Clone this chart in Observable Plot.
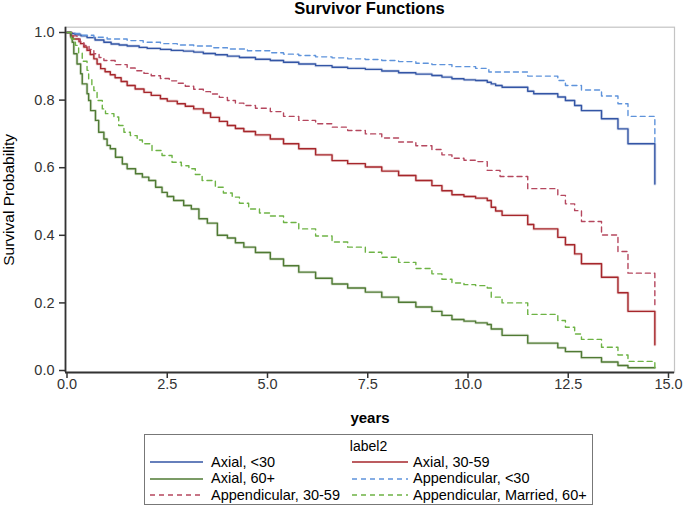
<!DOCTYPE html>
<html><head><meta charset="utf-8">
<script src="https://cdn.jsdelivr.net/npm/d3@7"></script>
<script src="https://cdn.jsdelivr.net/npm/@observablehq/plot@0.6"></script>
<style>
body{margin:0;background:#fff;font-family:"Liberation Sans",Arial,sans-serif;}
#wrap{position:relative;width:683px;height:507px;overflow:hidden;background:#fff;}
#title{position:absolute;left:65px;width:609px;top:0;height:18px;line-height:16px;text-align:center;font-weight:bold;font-size:16.5px;color:#000;}
#chart{position:absolute;left:0;top:20px;}
.legbox{position:absolute;left:144px;top:434px;width:447px;height:69px;border:1px solid #777;}
.lt{position:absolute;font-size:14.5px;line-height:17px;white-space:nowrap;color:#000;}
.sw{position:absolute;}
</style></head>
<body>
<div id="wrap">
  <div id="title">Survivor Functions</div>
  <div id="chart"></div>
  <div id="legend"></div>
</div>
<script>
// ---- data: Kaplan-Meier step points [years, survival] ----
const seriesNames = ["Axial, <30", "Axial, 30-59", "Axial, 60+", "Appendicular, <30", "Appendicular, 30-59", "Appendicular, Married, 60+"];

const axialU30 = [[0,1],[0.09,0.997],[0.2,0.993],[0.35,0.99],[0.5,0.985],[0.7,0.978],[0.92,0.971],[1.1,0.966],[1.3,0.963],[1.5,0.96],[1.8,0.956],[2.0,0.953],[2.33,0.95],[2.6,0.947],[2.9,0.945],[3.16,0.942],[3.4,0.938],[3.7,0.934],[4.0,0.93],[4.3,0.926],[4.7,0.921],[5.07,0.917],[5.4,0.912],[5.78,0.907],[6.2,0.902],[6.61,0.897],[7.0,0.894],[7.44,0.891],[7.85,0.886],[8.27,0.881],[8.7,0.877],[9.1,0.873],[9.35,0.868],[9.6,0.863],[9.9,0.86],[10.19,0.858],[10.48,0.853],[10.58,0.848],[10.69,0.843],[10.85,0.838],[11.49,0.826],[11.64,0.819],[12.24,0.809],[12.43,0.799],[12.66,0.784],[12.83,0.769],[13.33,0.745],[13.74,0.715],[13.99,0.671],[14.66,0.552]];

const axial3059 = [[0,1],[0.09,0.99],[0.15,0.981],[0.3,0.973],[0.34,0.967],[0.42,0.957],[0.5,0.947],[0.58,0.935],[0.67,0.922],[0.75,0.907],[0.84,0.893],[0.95,0.884],[1.08,0.875],[1.2,0.866],[1.35,0.855],[1.5,0.843],[1.7,0.833],[1.92,0.823],[2.1,0.814],[2.33,0.804],[2.5,0.797],[2.75,0.789],[2.95,0.782],[3.16,0.774],[3.4,0.762],[3.58,0.749],[3.8,0.737],[4.0,0.725],[4.2,0.716],[4.41,0.707],[4.7,0.697],[5.07,0.685],[5.4,0.671],[5.78,0.656],[6.2,0.638],[6.61,0.621],[7.0,0.612],[7.44,0.602],[7.85,0.59],[8.27,0.577],[8.7,0.562],[9.1,0.547],[9.35,0.532],[9.6,0.52],[9.9,0.515],[10.19,0.51],[10.48,0.503],[10.58,0.483],[10.69,0.472],[10.85,0.459],[11.49,0.432],[11.64,0.419],[12.24,0.394],[12.43,0.372],[12.66,0.345],[12.83,0.316],[13.33,0.276],[13.74,0.23],[13.99,0.175],[14.66,0.076]];

const axial60 = [[0,1],[0.1,0.985],[0.13,0.971],[0.17,0.937],[0.25,0.907],[0.34,0.878],[0.38,0.848],[0.5,0.819],[0.54,0.799],[0.59,0.769],[0.71,0.74],[0.79,0.705],[0.92,0.685],[1.0,0.666],[1.08,0.656],[1.21,0.631],[1.38,0.611],[1.5,0.597],[1.71,0.582],[1.88,0.572],[2.04,0.562],[2.21,0.542],[2.37,0.527],[2.5,0.515],[2.66,0.503],[2.91,0.488],[3.1,0.478],[3.29,0.449],[3.5,0.436],[3.75,0.4],[4.0,0.392],[4.2,0.378],[4.41,0.365],[4.7,0.349],[5.07,0.33],[5.4,0.31],[5.78,0.291],[6.2,0.273],[6.61,0.256],[7.0,0.244],[7.44,0.232],[7.85,0.217],[8.27,0.202],[8.7,0.188],[9.1,0.175],[9.35,0.163],[9.6,0.151],[9.9,0.146],[10.19,0.141],[10.48,0.136],[10.58,0.123],[10.85,0.104],[11.49,0.081],[12.24,0.067],[12.43,0.056],[12.83,0.038],[13.33,0.025],[13.74,0.015],[13.99,0.008],[14.66,0.008]];

const appU30 = [[0,1],[0.15,0.997],[0.35,0.992],[0.67,0.986],[1.0,0.981],[1.5,0.976],[1.9,0.971],[2.33,0.967],[2.75,0.963],[3.16,0.96],[3.6,0.955],[4.0,0.951],[4.5,0.946],[5.07,0.94],[5.4,0.936],[5.78,0.932],[6.2,0.928],[6.61,0.925],[7.0,0.922],[7.44,0.92],[7.85,0.917],[8.27,0.914],[8.7,0.909],[9.1,0.905],[9.6,0.899],[10.19,0.894],[10.52,0.883],[11.49,0.871],[12.24,0.858],[12.43,0.843],[12.83,0.83],[13.33,0.812],[13.74,0.789],[13.99,0.752],[14.66,0.675]];

const app3059 = [[0,1],[0.15,0.99],[0.25,0.981],[0.33,0.972],[0.42,0.962],[0.55,0.95],[0.67,0.937],[0.8,0.926],[0.92,0.917],[1.2,0.905],[1.5,0.895],[1.7,0.887],[1.92,0.879],[2.1,0.872],[2.33,0.864],[2.55,0.857],[2.75,0.85],[2.95,0.841],[3.16,0.832],[3.4,0.825],[3.58,0.818],[3.8,0.808],[4.0,0.799],[4.2,0.791],[4.41,0.784],[4.7,0.776],[5.07,0.766],[5.4,0.752],[5.78,0.74],[6.2,0.73],[6.61,0.72],[7.0,0.71],[7.44,0.7],[7.85,0.688],[8.27,0.676],[8.7,0.665],[9.1,0.654],[9.35,0.638],[9.6,0.628],[9.9,0.622],[10.19,0.618],[10.48,0.592],[10.8,0.574],[11.49,0.538],[12.24,0.518],[12.43,0.493],[12.66,0.473],[12.83,0.441],[13.33,0.401],[13.74,0.352],[13.99,0.288],[14.66,0.183]];

const appMarried60 = [[0,1],[0.11,0.981],[0.21,0.962],[0.29,0.94],[0.38,0.915],[0.5,0.888],[0.54,0.863],[0.62,0.845],[0.67,0.828],[0.75,0.799],[0.88,0.774],[0.96,0.76],[1.17,0.75],[1.29,0.725],[1.42,0.705],[1.58,0.695],[1.75,0.682],[1.88,0.671],[2.12,0.651],[2.37,0.636],[2.62,0.616],[2.85,0.606],[3.04,0.597],[3.2,0.58],[3.37,0.562],[3.7,0.542],[3.9,0.525],[4.12,0.513],[4.3,0.495],[4.53,0.478],[4.8,0.466],[5.07,0.457],[5.4,0.438],[5.78,0.419],[6.2,0.398],[6.61,0.38],[7.0,0.365],[7.44,0.35],[7.85,0.335],[8.27,0.32],[8.7,0.302],[9.1,0.286],[9.35,0.27],[9.6,0.259],[9.9,0.254],[10.19,0.251],[10.48,0.244],[10.58,0.217],[10.85,0.2],[11.49,0.166],[12.24,0.148],[12.43,0.128],[12.66,0.108],[12.83,0.092],[13.33,0.069],[13.74,0.046],[13.99,0.027],[14.66,0.008]];

const xTicks = [0, 2.5, 5, 7.5, 10, 12.5, 15];
const yTicks = [0, 0.2, 0.4, 0.6, 0.8, 1.0];

// ---- styling ----
const seriesData = [axialU30, axial3059, axial60, appU30, app3059, appMarried60];
const colors = ["#3355A5", "#A6262B", "#4F7A33", "#5E93DB", "#B5475E", "#6DB344"];
const dashes = [null, null, null, "5,4", "5,4", "5,4"];

const xDomain = [-0.0374, 15.15];
const yDomain = [-0.0059, 1.0157];

const marks = [
  Plot.frame({stroke: "#c4c4c4", strokeWidth: 1.2}),
];
seriesData.forEach((data, i) => {
  if (!dashes[i]) {
    marks.push(Plot.line(data, {x: d => d[0], y: d => d[1], curve: "step-after", stroke: colors[i], strokeWidth: 3, strokeOpacity: 0.2}));
  }
  marks.push(Plot.line(data, {x: d => d[0], y: d => d[1], curve: "step-after", stroke: colors[i], strokeWidth: 1.4, strokeDasharray: dashes[i] || undefined}));
});
marks.push(
  Plot.ruleX([xDomain[0]], {stroke: "#333", strokeWidth: 1.8}),
  Plot.ruleY([yDomain[0]], {stroke: "#333", strokeWidth: 1.8}),
  Plot.axisX({ticks: xTicks, tickFormat: d3.format(".1f"), tickSize: 6, tickPadding: 0, fontSize: 14.5, strokeWidth: 1.5, label: null}),
  Plot.axisY({ticks: yTicks, tickFormat: d3.format(".1f"), tickSize: 6, tickPadding: 5, fontSize: 14.5, strokeWidth: 1.5, label: null}),
  Plot.text(["Survival Probability"], {text: d => d, frameAnchor: "left", dx: -56, rotate: -90, fontSize: 15.5, fill: "#000", lineAnchor: "middle", textAnchor: "middle"}),
  Plot.text(["years"], {text: d => d, frameAnchor: "bottom", dy: 46, fontSize: 15, fontWeight: "bold", fill: "#000", lineAnchor: "middle", textAnchor: "middle"})
);

const chart = Plot.plot({
  width: 683,
  height: 412,
  marginLeft: 65,
  marginRight: 9,
  marginTop: 6.7,
  marginBottom: 60,
  x: {domain: xDomain, type: "linear"},
  y: {domain: yDomain, type: "linear"},
  style: {fontFamily: "'Liberation Sans', Arial, sans-serif", fontSize: "14.5px", color: "#333", background: "#fff", overflow: "visible"},
  marks
});
document.getElementById("chart").appendChild(chart);

// ---- legend (HTML below the SVG) ----
const legend = document.getElementById("legend");
const box = document.createElement("div");
box.className = "legbox";
legend.appendChild(box);
const ttl = document.createElement("div");
ttl.className = "lt";
ttl.style.cssText = "left:144px;width:449px;text-align:center;top:437.7px;font-size:14px;";
ttl.textContent = "label2";
legend.appendChild(ttl);

const rowCenters = [462, 478.7, 495.3];
const cols = [{line: 150, len: 53, text: 211}, {line: 352, len: 56, text: 413}];
seriesNames.forEach((name, i) => {
  const r = Math.floor(i / 2), c = i % 2;
  const cy = rowCenters[r];
  const svg = document.createElementNS("http://www.w3.org/2000/svg", "svg");
  svg.setAttribute("class", "sw");
  svg.setAttribute("width", cols[c].len);
  svg.setAttribute("height", 6);
  svg.style.left = cols[c].line + "px";
  svg.style.top = (cy - 3) + "px";
  const ln = document.createElementNS("http://www.w3.org/2000/svg", "line");
  ln.setAttribute("x1", 0); ln.setAttribute("x2", cols[c].len);
  ln.setAttribute("y1", 3); ln.setAttribute("y2", 3);
  ln.setAttribute("stroke", colors[i]);
  ln.setAttribute("stroke-width", 1.4);
  if (dashes[i]) ln.setAttribute("stroke-dasharray", dashes[i]);
  svg.appendChild(ln);
  legend.appendChild(svg);
  const t = document.createElement("div");
  t.className = "lt";
  t.style.left = cols[c].text + "px";
  t.style.top = (cy - 8.3) + "px";
  t.textContent = name;
  legend.appendChild(t);
});
</script>
</body></html>
